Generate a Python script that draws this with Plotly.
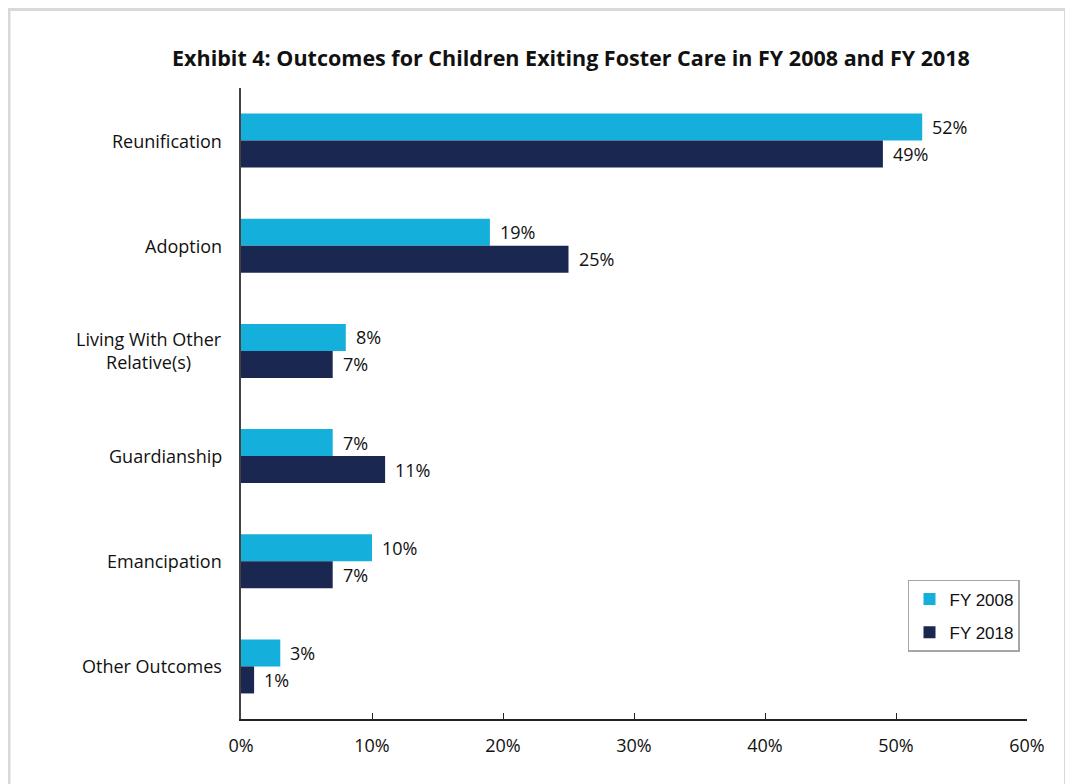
import plotly.graph_objects as go

categories = ["Reunification", "Adoption", "Living With Other<br>Relative(s)",
              "Guardianship", "Emancipation", "Other Outcomes"]
fy2008 = [52, 19, 8, 7, 10, 3]
fy2018 = [49, 25, 7, 11, 7, 1]
series_names = ["FY 2008", "FY 2018"]
colors = ["#14afdb", "#1a2750"]
x_ticks = [0, 10, 20, 30, 40, 50, 60]
x_tick_labels = [f"{t}%" for t in x_ticks]

FONT = "Open Sans"
TXT = "#111111"

fig = go.Figure()
for name, vals, col in zip(series_names, [fy2008, fy2018], colors):
    fig.add_trace(go.Bar(
        y=categories, x=vals, name=name, orientation="h",
        marker=dict(color=col, line=dict(width=0)),
        legendgroup=name,
    ))

# value labels
for vals, ys in zip([fy2008, fy2018], [13.5, -13.5]):
    for c, v in zip(categories, vals):
        fig.add_annotation(x=v, xref="x", y=c, yref="y", text=f"{v}%",
                           showarrow=False, xanchor="left", yanchor="middle",
                           xshift=8, yshift=ys,
                           font=dict(family=FONT, size=18, color=TXT))

# category labels
for c in categories:
    fig.add_annotation(x=-0.022, xref="paper", y=c, yref="y", text=c,
                       showarrow=False, xanchor="right", yanchor="middle",
                       align="center", font=dict(family=FONT, size=18, color=TXT))

fig.update_layout(
    width=1073, height=784,
    paper_bgcolor="white", plot_bgcolor="white",
    margin=dict(l=233, r=54, t=80, b=73),
    barmode="group", bargap=0.486, bargroupgap=0,
    title=dict(text="<b>Exhibit 4: Outcomes for Children Exiting Foster Care in FY 2008 and FY 2018</b>",
               x=0.5247, xanchor="center", y=0.936, yanchor="middle",
               font=dict(family=FONT, size=21.5, color="#111111")),
    xaxis=dict(range=[0, 60], tickvals=x_ticks, ticktext=x_tick_labels,
               showgrid=False, zeroline=False,
               showline=True, linecolor="#222222", linewidth=1.5,
               ticks="inside", ticklen=6, tickcolor="#222222", tickwidth=1,
               ticklabelstandoff=10,
               tickfont=dict(family=FONT, size=18, color=TXT)),
    yaxis=dict(autorange="reversed", showticklabels=False, showgrid=False,
               showline=True, linecolor="#444444", linewidth=1.5, ticks=""),
    legend=dict(x=0.8486, xanchor="left", y=0.2203, yanchor="top",
                bordercolor="#a6a6a6", borderwidth=1.5, bgcolor="white",
                traceorder="grouped", tracegroupgap=8,
                font=dict(family="Liberation Sans", size=17, color="#111111")),
    showlegend=True,
    shapes=[dict(type="rect", xref="paper", yref="paper",
                 x0=-0.2952, x1=1.049, y0=-0.2, y1=1.1244,
                 line=dict(color="#d9d9d9", width=3), fillcolor="rgba(0,0,0,0)",
                 layer="below")],
)

fig.write_html("out.html")
